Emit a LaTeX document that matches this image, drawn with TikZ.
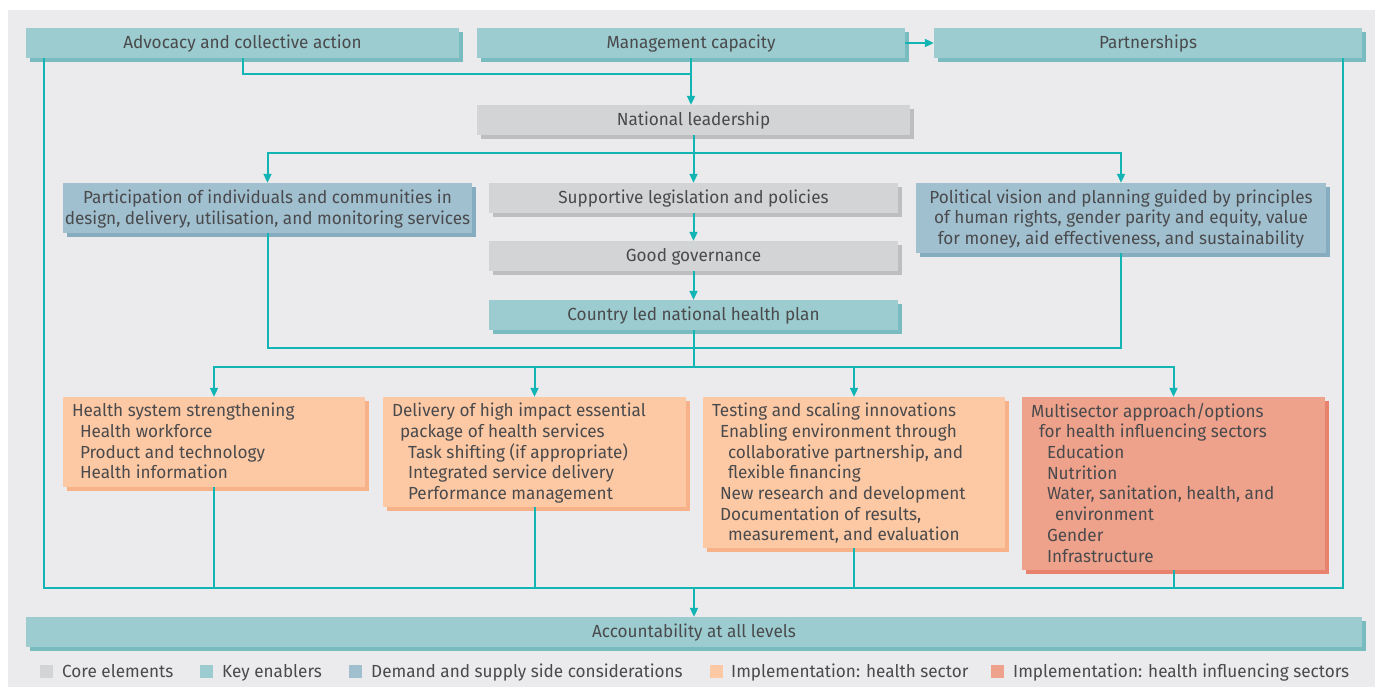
\documentclass[tikz,border=0pt]{standalone}
\usepackage{fontspec}
\setmainfont{Fira Sans}[FakeStretch=0.98]
\usetikzlibrary{arrows.meta,fit,shadows}
\definecolor{panelC}{HTML}{EBEBED}
\definecolor{coreC}{HTML}{D3D4D6}\definecolor{coreS}{HTML}{BDBEC0}
\definecolor{keyC}{HTML}{9CCCD0}\definecolor{keyS}{HTML}{78BCC0}
\definecolor{demC}{HTML}{A0C0D0}\definecolor{demS}{HTML}{86ACBF}
\definecolor{hsC}{HTML}{FDC9A5}\definecolor{hsS}{HTML}{F8B28A}
\definecolor{hiC}{HTML}{EEA28C}\definecolor{hiS}{HTML}{E8826C}
\definecolor{lineC}{HTML}{12B5B4}
\definecolor{txtC}{HTML}{4A4A4C}
\tikzset{
  basebox/.style={inner sep=0pt, align=center, text=txtC, font=\fontsize{17.5}{20.7}\selectfont},
  onel/.style={basebox, anchor=base},
  corebox/.style={basebox, fill=coreC, general shadow={fill=coreS, shadow xshift=4pt, shadow yshift=-4pt}},
  keybox/.style={basebox, fill=keyC, general shadow={fill=keyS, shadow xshift=4pt, shadow yshift=-4pt}},
  dembox/.style={basebox, fill=demC, general shadow={fill=demS, shadow xshift=4pt, shadow yshift=-4pt}},
  hsbox/.style={basebox, fill=hsC, general shadow={fill=hsS, shadow xshift=4pt, shadow yshift=-4pt}},
  hibox/.style={basebox, fill=hiC, general shadow={fill=hiS, shadow xshift=4pt, shadow yshift=-4pt}},
  itext/.style={inner sep=0pt, align=left, anchor=north west, text=txtC, font=\fontsize{17.5}{20.7}\selectfont},
  conn/.style={draw=lineC, line width=2pt},
  arr/.style={conn, -{Triangle[length=9pt,width=8pt]}},
  legsq/.style={minimum width=13pt, minimum height=13pt, inner sep=0pt},
  legtxt/.style={inner sep=0pt, anchor=base west, text=txtC, font=\fontsize{17.5}{20.7}\selectfont},
}
\newcommand\ind[1]{\hspace*{#1pt}}
\begin{document}
\begin{tikzpicture}[x=1pt,y=-1pt]
\useasboundingbox (0,0) rectangle (1375,687);
\fill[white] (0,0) rectangle (1375,687);
\fill[panelC] (8,10) rectangle (1375,687);
% top row
\node[keybox, fit={(26,28)(459,58)}] (adv) {};
\node[onel] at ([yshift=-5.5pt]adv.center) (advt) {Advocacy and collective action};
\node[keybox, fit={(477,28)(905,58)}] (mgmt) {};
\node[onel] at ([yshift=-5.5pt]mgmt.center) (mgmtt) {Management capacity};
\node[keybox, fit={(934,28)(1362,58)}] (part) {};
\node[onel] at ([yshift=-5.5pt]part.center) (partt) {Partnerships};
% core
\node[corebox, fit={(477,105)(910,135)}] (nl) {};
\node[onel] at ([yshift=-5.5pt]nl.center) (nlt) {National leadership};
\node[corebox, fit={(489,183)(898,213)}] (sup) {};
\node[onel] at ([yshift=-5.5pt]sup.center) (supt) {Supportive legislation and policies};
\node[corebox, fit={(489,241)(898,271)}] (gg) {};
\node[onel] at ([yshift=-5.5pt]gg.center) (ggt) {Good governance};
\node[keybox, fit={(489,300)(898,330)}] (cl) {};
\node[onel] at ([yshift=-5.5pt]cl.center) (clt) {Country led national health plan};
% demand
\node[dembox, fit={(63,183)(472,233)}] (par) {};
\node[basebox] at ([yshift=-1pt]par.center) (part2) {Participation of individuals and communities in\\design, delivery, utilisation, and monitoring services};
\node[dembox, fit={(916,183)(1326,253)}] (pol) {};
\node[basebox] at ([yshift=-1pt]pol.center) (polt) {Political vision and planning guided by principles\\of human rights, gender parity and equity, value\\for money, aid effectiveness, and sustainability};
% implementation
\node[hsbox, fit={(63,397)(365,487)}] (hs) {};
\node[itext] at ([xshift=9pt,yshift=-6pt]hs.north west) (hst) {Health system strengthening\\\ind{8}Health workforce\\\ind{8}Product and technology\\\ind{8}Health information};
\node[hsbox, fit={(383,397)(686,507)}] (del) {};
\node[itext] at ([xshift=9pt,yshift=-6pt]del.north west) (delt) {Delivery of high impact essential\\\ind{8}package of health services\\\ind{16}Task shifting (if appropriate)\\\ind{16}Integrated service delivery\\\ind{16}Performance management};
\node[hsbox, fit={(703,397)(1005,548)}] (tst) {};
\node[itext] at ([xshift=9pt,yshift=-6pt]tst.north west) (tstt) {Testing and scaling innovations\\\ind{8}Enabling environment through\\\ind{16}collaborative partnership, and\\\ind{16}flexible financing\\\ind{8}New research and development\\\ind{8}Documentation of results,\\\ind{16}measurement, and evaluation};
\node[hibox, fit={(1022,397)(1325,570)}] (mul) {};
\node[itext] at ([xshift=9pt,yshift=-6pt]mul.north west) (mult) {Multisector approach/options\\\ind{8}for health influencing sectors\\\ind{16}Education\\\ind{16}Nutrition\\\ind{16}Water, sanitation, health, and\\\ind{24}environment\\\ind{16}Gender\\\ind{16}Infrastructure};
% accountability
\node[keybox, fit={(26,617)(1362,647)}] (acc) {};
\node[onel] at ([yshift=-5.5pt]acc.center) (acct) {Accountability at all levels};
% junctions
\coordinate (j1) at (mgmt.south |- 0,74);
\coordinate (j2) at (nl.south |- 0,153);
\coordinate (j4) at (pol.south |- 0,348);
\coordinate (j5) at (cl.south |- 0,367);
\coordinate (jb) at (acc.north |- 0,588);
\coordinate (lt) at ([xshift=18pt]adv.south west);
\coordinate (rt) at ([xshift=-19pt]part.south east);
% connectors
\draw[conn] (adv.south) |- (j1);
\draw[arr] (mgmt.south) -- (mgmt.south |- nl.north);
\draw[arr] (mgmt.east) -- (part.west);
\draw[conn] (nl.south) -- (j2);
\draw[arr] (j2) -| (par.north);
\draw[arr] (j2) -| (pol.north);
\draw[arr] (j2) -- (sup.north);
\draw[arr] (sup.south) -- (gg.north);
\draw[arr] (gg.south) -- (cl.north);
\draw[conn] (par.south) |- (j4) -- (pol.south);
\draw[conn] (cl.south) -- (j5);
\draw[arr] (j5) -| (hs.north);
\draw[arr] (j5) -| (del.north);
\draw[arr] (j5) -| (tst.north);
\draw[arr] (j5) -| (mul.north);
\draw[conn] (lt) |- (rt |- jb) -- (rt);
\draw[conn] (hs.south) -- (hs.south |- jb);
\draw[conn] (del.south) -- (del.south |- jb);
\draw[conn] (tst.south) -- (tst.south |- jb);
\draw[conn] (mul.south) -- (mul.south |- jb);
\draw[arr] (jb) -- (acc.north);
% legend
\node[legsq, fill=coreC] (l1) at (46,671) {};
\node[legtxt] (l1t) at (62,677) {Core elements};
\node[legsq, fill=keyC] (l2) at (206,671) {};
\node[legtxt] (l2t) at (222,677) {Key enablers};
\node[legsq, fill=demC] (l3) at (355,671) {};
\node[legtxt] (l3t) at (371,677) {Demand and supply side considerations};
\node[legsq, fill=hsC] (l4) at (716,671) {};
\node[legtxt] (l4t) at (731,677) {Implementation: health sector};
\node[legsq, fill=hiC] (l5) at (997,671) {};
\node[legtxt] (l5t) at (1013,677) {Implementation: health influencing sectors};
\end{tikzpicture}
\end{document}
